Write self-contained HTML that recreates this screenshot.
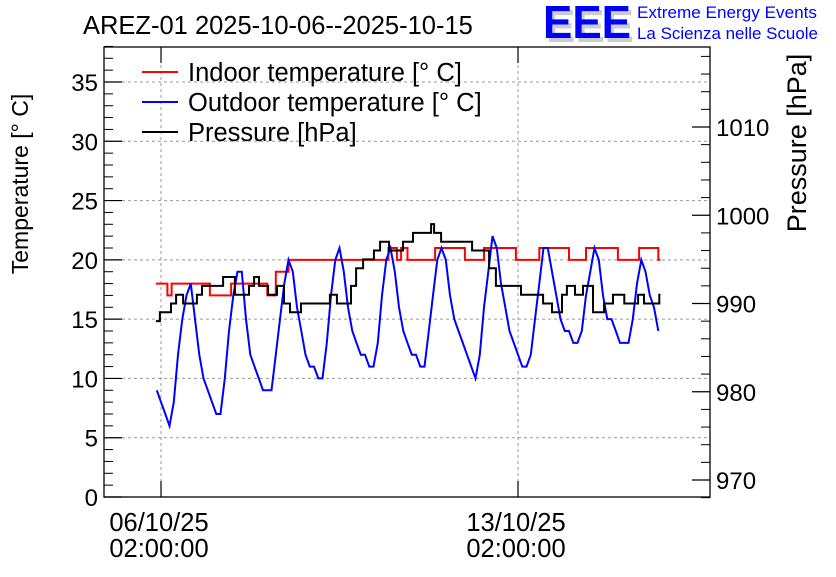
<!DOCTYPE html>
<html><head><meta charset="utf-8"><style>
body{margin:0;background:#fff;}
svg text{font-family:"Liberation Sans",sans-serif;}
</style></head><body>
<svg id="c" width="836" height="572" xmlns="http://www.w3.org/2000/svg">
<rect width="836" height="572" fill="#fff"/>
<text x="83" y="34" font-size="25.5">AREZ-01 2025-10-06--2025-10-15</text>
<g>
<text x="546" y="42" font-size="46" font-weight="bold" fill="#ccc" textLength="88" lengthAdjust="spacingAndGlyphs">EEE</text>
<text x="543" y="38" font-size="46" font-weight="bold" fill="#0000ff" textLength="88" lengthAdjust="spacingAndGlyphs">EEE</text>
<text x="637" y="18" font-size="16.5" fill="#0000ff" textLength="180" lengthAdjust="spacingAndGlyphs">Extreme Energy Events</text>
<text x="637" y="39" font-size="16.5" fill="#0000ff" textLength="181" lengthAdjust="spacingAndGlyphs">La Scienza nelle Scuole</text>
</g>
<g id="grid"></g>
<g id="axes"></g>
<g id="series"></g>
<rect x="104" y="47" width="606" height="450" fill="none" stroke="#000" stroke-width="1.3"/>
<text transform="translate(28,184) rotate(-90)" text-anchor="middle" font-size="23">Temperature [° C]</text>
<text transform="translate(806,143) rotate(-90)" text-anchor="middle" font-size="27">Pressure [hPa]</text>
<g>
<line x1="142" y1="72" x2="178" y2="72" stroke="#ff0000" stroke-width="2"/>
<text x="188" y="81" font-size="25.5">Indoor temperature [° C]</text>
<line x1="142" y1="102" x2="178" y2="102" stroke="#0000ff" stroke-width="2"/>
<text x="188" y="111" font-size="25.5">Outdoor temperature [° C]</text>
<line x1="142" y1="132" x2="178" y2="132" stroke="#000" stroke-width="2"/>
<text x="188" y="141" font-size="25.5">Pressure [hPa]</text>
</g>
</svg>
<script>
// hours since 06/10/25 02:00
const blueTimes=[-2,0,2,4,6,8,10,12,14,16,18,20,22,24,26,28,30,32,34,36,38,40,42,44,46,48,50,52,54,56,58,60,62,64,66,68,70,72,74,76,78,80,82,84,86,88,90,92,94,96,98,100,102,104,106,108,110,112,114,116,118,120,122,124,126,128,130,132,134,136,138,140,142,144,146,148,150,152,154,156,158,160,162,164,166,168,170,172,174,176,178,180,182,184,186,188,190,192,194,196,198,200,202,204,206,208,210,212,214,216,218,220,222,224,226,228,230,232,234];
const blueVals=[9,8,7,6,8,12,15,17,18,15,12,10,9,8,7,7,10,14,17,19,19,15,12,11,10,9,9,9,12,15,18,20,19,16,14,12,11,11,10,10,13,17,20,21,19,16,14,13,12,12,11,11,13,17,20,21,19,16,14,13,12,12,11,11,14,17,20,21,20,17,15,14,13,12,11,10,12,16,19,22,21,18,16,14,13,12,11,11,12,15,18,21,21,19,17,15,14,14,13,13,14,17,19,21,20,17,15,15,14,13,13,13,15,18,20,19,17,16,14];
const redTimes=[-2.4,3,5,23,33,50,54,60,107,111,113,116,129,143,152,167,178,192,200,215,225,234,235];
const redVals=[18,17,18,17,18,17,19,20,21,20,21,20,21,20,21,20,21,20,21,20,21,20,20];
const presTimes=[-2.4,-0.5,4.7,7.1,10.4,16.9,19.3,29.2,34.8,41.4,43.8,46.1,50.4,54.6,57.9,60.7,65.9,79.5,82.8,89.4,91.8,95.1,100.2,103.1,107.3,113.9,118.6,127.1,128.5,131.8,146.4,154.4,157.6,169.4,179.8,184,188.7,191,194.8,198.6,203.3,208.5,212.7,218,224.5,227.3,234.5,235];
const presVals=[988,989,990,991,990,991,992,993,991,992,993,992,991,992,990,989,990,991,990,992,994,995,996,997,996,997,998,999,998,997,996,994,992,991,990,989,991,992,991,992,989,990,991,990,991,990,991,991];
const leftTicks=[0,5,10,15,20,25,30,35];
const rightTicks=[970,980,990,1000,1010];
const xTickHours=[0,168];
const xTickLabels=[["06/10/25","02:00:00"],["13/10/25","02:00:00"]];

const L=104,R=710,T=47,B=497;
const xS=h=>161+h*(357/168);
const yT=v=>B-v*(415/35);
const yP=p=>127+(1010-p)*8.825;
const NS="http://www.w3.org/2000/svg";
function mk(tag,attrs,parent){const e=document.createElementNS(NS,tag);for(const k in attrs)e.setAttribute(k,attrs[k]);parent.appendChild(e);return e;}
const grid=document.getElementById('grid'),axes=document.getElementById('axes'),ser=document.getElementById('series');
leftTicks.forEach(v=>{
 const y=yT(v);
 if(v>0){const g=mk('line',{x1:L,x2:R,y1:y,y2:y,stroke:'#999','stroke-dasharray':'3,3','stroke-width':1},grid);
 
 }
 mk('line',{x1:L,x2:L+18,y1:y,y2:y,stroke:'#000','stroke-width':1.2},axes);
 const t=mk('text',{x:L-6,y:y+9,'text-anchor':'end','font-size':24},axes);t.textContent=v;
 
 
});
for(let v=0;v<=38;v++){if(v%5){const y=yT(v);mk('line',{x1:L,x2:L+9,y1:y,y2:y,stroke:'#000','stroke-width':1},axes);}}
rightTicks.forEach(p=>{
 const y=yP(p);
 mk('line',{x1:R-18,x2:R,y1:y,y2:y,stroke:'#000','stroke-width':1.2},axes);
 const t=mk('text',{x:R+6,y:y+9,'font-size':24},axes);t.textContent=p;
 
 
});
for(let p=968;p<=1018;p+=2){if(p%10){const y=yP(p);mk('line',{x1:R-9,x2:R,y1:y,y2:y,stroke:'#000','stroke-width':1},axes);}}
xTickHours.forEach((h,i)=>{
 const x=xS(h);
 const g=mk('line',{x1:x,x2:x,y1:T,y2:B,stroke:'#999','stroke-dasharray':'3,3','stroke-width':1},grid);
 
 
 mk('line',{x1:x,x2:x,y1:B-16,y2:B,stroke:'#000','stroke-width':1.2},axes);
 mk('line',{x1:x,x2:x,y1:T,y2:T+16,stroke:'#000','stroke-width':1.2},axes);
 const t1=mk('text',{x:x-2,y:531,'text-anchor':'middle','font-size':25.5},axes);t1.textContent=xTickLabels[i][0];
 
 
 const t2=mk('text',{x:x-2,y:557,'text-anchor':'middle','font-size':25.5},axes);t2.textContent=xTickLabels[i][1];
 
 
});
function stepPath(ts,vs,ys){let d='';for(let i=0;i<ts.length;i++){const x=xS(ts[i]).toFixed(1),y=ys(vs[i]).toFixed(1);if(i===0)d='M'+x+','+y;else{d+=' L'+x+','+ys(vs[i-1]).toFixed(1)+' L'+x+','+y;}}return d;}
function linePath(ts,vs,ys){return ts.map((t,i)=>(i?'L':'M')+xS(t).toFixed(1)+','+ys(vs[i]).toFixed(1)).join(' ');}
const pr=mk('path',{d:stepPath(redTimes,redVals,yT),fill:'none',stroke:'#ff0000','stroke-width':2},ser);


const pb=mk('path',{d:linePath(blueTimes,blueVals,yT),fill:'none',stroke:'#0000ff','stroke-width':2},ser);


const pk=mk('path',{d:stepPath(presTimes,presVals,yP),fill:'none',stroke:'#000','stroke-width':2},ser);


</script>
</body></html>
